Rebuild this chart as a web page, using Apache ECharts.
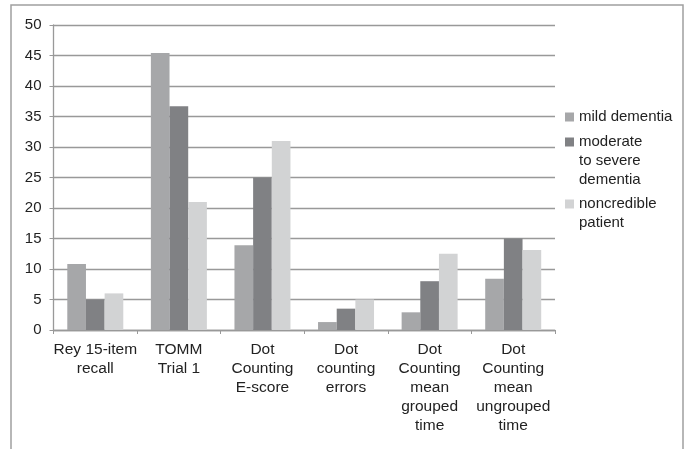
<!DOCTYPE html>
<html><head><meta charset="utf-8">
<script src="https://cdn.jsdelivr.net/npm/echarts@6/dist/echarts.min.js"></script>
<style>html,body{margin:0;padding:0;background:#fff}#c{width:691px;height:449px}</style>
</head><body><div id="c"></div>
<script>
var categories = ['Rey 15-item\nrecall', 'TOMM\nTrial 1', 'Dot\nCounting\nE-score', 'Dot\ncounting\nerrors', 'Dot\nCounting\nmean\ngrouped\ntime', 'Dot\nCounting\nmean\nungrouped\ntime'];
var seriesNames = ['mild dementia', 'moderate to severe dementia', 'noncredible patient'];
var legendLabels = ['mild dementia', 'moderate\nto severe\ndementia', 'noncredible\npatient'];
var mild = [10.8, 45.4, 13.9, 1.3, 2.9, 8.4];
var moderate = [5.0, 36.7, 25.0, 3.5, 8.0, 15.0];
var noncredible = [6.0, 21.0, 31.0, 5.0, 12.5, 13.1];
var colors = ['#a6a7a9', '#808184', '#d2d3d4'];

var FONT = "'Liberation Sans', Arial, sans-serif";
var chart = echarts.init(document.getElementById('c'));
function mkLegend(i, iconCenterY) {
  var lines = legendLabels[i].split('\n');
  var pre = '';
  for (var k = 1; k < lines.length; k++) pre += '\n';
  var total = lines.length * 2 - 1;
  return {
    data: [seriesNames[i]], orient: 'vertical', left: 565, top: iconCenterY - total * 19 / 2, padding: 0,
    itemWidth: 9, itemHeight: 9, itemGap: 0, icon: 'rect',
    formatter: function () { return pre + legendLabels[i]; },
    textStyle: { fontFamily: FONT, fontSize: 15, color: '#222', lineHeight: 19 }
  };
}
chart.setOption({
  animation: false,
  color: colors,
  graphic: [{ type: 'rect', shape: { x: 11, y: 5, width: 672, height: 470 }, style: { fill: 'none', stroke: '#a0a0a0', lineWidth: 1.5 }, silent: true }],
  grid: { left: 53.5, right: 136, top: 25, bottom: 119, containLabel: false },
  legend: [mkLegend(0, 117), mkLegend(1, 142), mkLegend(2, 204)],
  xAxis: {
    type: 'category', data: categories,
    axisLine: { lineStyle: { color: '#999', width: 1.3 } },
    axisTick: { show: true, length: 4, lineStyle: { color: '#999' } },
    axisLabel: { interval: 0, fontFamily: FONT, fontSize: 15.5, color: '#222', lineHeight: 19, margin: 10 }
  },
  yAxis: {
    type: 'value', min: 0, max: 50, interval: 5,
    axisLine: { show: true, lineStyle: { color: '#999', width: 1.3 } },
    axisTick: { show: true, length: 4, lineStyle: { color: '#999' } },
    splitLine: { lineStyle: { color: '#999', width: 1.3 } },
    axisLabel: { fontFamily: FONT, fontSize: 15, color: '#222', margin: 12 }
  },
  series: [
    { name: seriesNames[0], type: 'bar', data: mild, barGap: '0%', barCategoryGap: '33%' },
    { name: seriesNames[1], type: 'bar', data: moderate, barGap: '0%', barCategoryGap: '33%' },
    { name: seriesNames[2], type: 'bar', data: noncredible, barGap: '0%', barCategoryGap: '33%' }
  ]
});
</script></body></html>
